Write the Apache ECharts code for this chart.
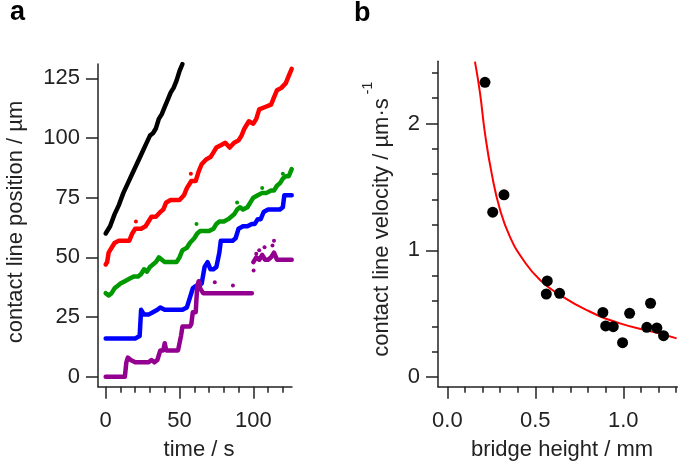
<!DOCTYPE html>
<html>
<head>
<meta charset="utf-8">
<script src="https://cdn.jsdelivr.net/npm/echarts@6/dist/echarts.min.js"></script>
<style>
html,body{margin:0;padding:0;background:#fff;}
#c{width:679px;height:468px;}
</style>
</head>
<body>
<div id="c"></div>
<script>
// ---- Panel a: contact line position traces [time s, position µm] ----
var blackTrace = [[0,60],[3,63],[6,68],[9,72],[12,77],[15,81],[18,85],[21,89],[24,93],[27,97],[30,101],[32,102],[34,104],[36,108],[38,110],[40,113],[42,116],[44,119],[46,121],[48,124],[50,128],[52,131]];
var redTrace = [[0,47],[1,48],[2,52],[4,54],[6,56],[9,57],[13,57],[16,57],[18,60],[20,62],[24,62],[27,63],[29,65],[31,67],[34,67],[37,69],[39,70],[41,73],[44,74],[47,74],[50,74],[53,76],[55,79],[58,82],[61,82],[63,86],[65,89],[68,91],[71,92],[73,94],[75,96],[78,97],[81,98],[84,96],[87,98],[90,99],[92,101],[94,104],[97,107],[100,106],[102,108],[104,112],[108,113],[112,114],[114,117],[116,120],[119,121],[122,123],[124,126],[126,129]];
var redDots = [[20.5,65],[57.7,85]];
var greenTrace = [[0,35],[2,34],[4,35],[6,37],[8,38],[10,39],[13,40],[16,41],[19,42],[22,42],[24,43],[26,45],[28,44],[30,46],[32,47],[34,48],[36,50],[38,49],[40,48],[43,48],[46,48],[48,48],[50,50],[52,53],[55,54],[57,56],[60,58],[62,60],[64,61],[67,61],[70,61],[73,62],[75,64],[77,65],[80,65],[83,66],[85,67],[87,68],[89,70],[91,71],[93,70],[96,71],[98,73],[100,75],[103,76],[106,77],[109,77],[112,78],[114,78],[116,80],[118,81],[120,83],[122,84],[124,84],[126,87]];
var greenDots = [[61.5,64],[89,73],[106,79],[120,85]];
var blueTrace = [[0,16],[5,16],[10,16],[15,16],[20,16],[23,17],[24,28],[26,26],[29,26],[32,27],[35,28],[37,29],[40,28],[43,28],[46,28],[49,28],[52,28],[55,29],[57,33],[59,37],[61,38],[63,38],[65,39],[67,46],[69,48],[71,45],[73,45],[75,46],[77,52],[78,57],[81,57],[84,57],[86,57],[88,58],[90,62],[93,63],[96,63],[99,64],[101,64],[103,66],[105,66],[107,69],[110,70],[114,70],[118,70],[120,71],[121,76],[124,76],[126,76]];
var purpleTraceA = [[0,0],[5,0],[10,0],[13,0],[14,6],[15,8],[17,7],[20,6],[23,6],[26,6],[29,6],[31,7],[33,6],[35,7],[37,11],[39,11],[40,14],[41,11],[44,11],[47,11],[49,11],[50,11],[51,17],[52,21],[55,21],[57,21],[58,22],[59,27],[61,27],[62,38],[63,40],[64,37],[66,35],[70,35],[75,35],[80,35],[85,35],[90,35],[95,35],[99,35]];
var purpleTraceB = [[100,48],[102,50],[104,49],[106,51],[108,49],[110,49],[112,50],[114,52],[116,49],[118,49],[120,49],[122,49],[124,49],[126,49]];
var purpleDots = [[100.2,44.5],[102,51.5],[104,53],[107.6,54.2],[114,57],[113,55],[73.9,39.6],[86.2,38.2],[64,39]];
var timeTicksMajor = [0,50,100];
var timeTicksMinor = [0,10,20,30,40,50,60,70,80,90,100,110,120];
var posTicks = [0,25,50,75,100,125];

// ---- Panel b: velocity vs bridge height ----
var bridgeHeight = [0.214,0.258,0.322,0.568,0.5625,0.638,0.884,0.900,0.943,0.996,1.036,1.155,1.134,1.191,1.229];
var velocity     = [2.324,1.300,1.437,0.758,0.655,0.660,0.510,0.403,0.397,0.271,0.503,0.582,0.392,0.387,0.326];
var fitHeight   = [0.157,0.186,0.214,0.252,0.300,0.356,0.432,0.527,0.640,0.792,0.981,1.170,1.303];
var fitVelocity = [2.487,2.237,1.922,1.606,1.317,1.106,0.923,0.765,0.647,0.528,0.423,0.357,0.305];
var heightTicksMajor = [0,0.5,1.0];
var heightTicksMinor = [0,0.1,0.2,0.3,0.4,0.5,0.6,0.7,0.8,0.9,1.0,1.1,1.2,1.3];
var velTicksMajor = [0,1,2];
var velTicksMinor = [0,0.2,0.4,0.6,0.8,1.0,1.2,1.4,1.6,1.8,2.0,2.2,2.4];

var FONT = '"Liberation Sans", Arial, Helvetica, sans-serif';
var AX = '#222';
var TXT = '#222';
var lbl = {fontFamily: FONT, fontSize: 22, color: TXT};

function majorAxis(gridIndex, min, max, ticks, labelMargin, fmt, showLine){
  return {
    type: 'value', gridIndex: gridIndex, min: min, max: max,
    axisLine: {show: showLine, onZero: false, lineStyle: {color: AX, width: 1.5}},
    axisTick: {show: true, length: 12, customValues: ticks, lineStyle: {color: AX, width: 1.5}},
    axisLabel: Object.assign({show: true, margin: labelMargin, customValues: ticks, formatter: fmt}, lbl),
    splitLine: {show: false}
  };
}
function minorAxis(gridIndex, min, max, ticks){
  return {
    type: 'value', gridIndex: gridIndex, min: min, max: max,
    axisLine: {show: false, onZero: false},
    axisTick: {show: true, length: 6, customValues: ticks, lineStyle: {color: AX, width: 1.5}},
    axisLabel: {show: false},
    splitLine: {show: false}
  };
}

function traceSeries(data, color){
  return {type: 'line', xAxisIndex: 0, yAxisIndex: 0, data: data, showSymbol: false, symbol: 'none',
    lineStyle: {color: color, width: 4.5, cap: 'round', join: 'round'}, silent: true, z: 3};
}
function dotSeries(data, color){
  return {type: 'scatter', xAxisIndex: 0, yAxisIndex: 0, data: data, symbolSize: 4,
    itemStyle: {color: color, opacity: 1}, silent: true, z: 3};
}

var chart = echarts.init(document.getElementById('c'), null, {renderer: 'canvas'});
chart.setOption({
  animation: false,
  backgroundColor: '#fff',
  grid: [
    {left: 98, top: 64, width: 194, height: 322.7, containLabel: false},
    {left: 438, top: 61.3, width: 239.3, height: 325.4, containLabel: false}
  ],
  xAxis: [
    Object.assign(majorAxis(0, -5.2, 126.2, timeTicksMajor, 23, function(v){return String(v);}, true), {position: 'bottom'}),
    Object.assign(minorAxis(0, -5.2, 126.2, timeTicksMinor), {position: 'bottom'}),
    Object.assign(majorAxis(1, -0.053, 1.307, heightTicksMajor, 23, function(v){return v.toFixed(1);}, true), {position: 'bottom'}),
    Object.assign(minorAxis(1, -0.053, 1.307, heightTicksMinor), {position: 'bottom'})
  ],
  yAxis: [
    Object.assign(majorAxis(0, -4.2, 131, posTicks, 18, function(v){return String(v);}, true), {position: 'left'}),
    Object.assign(majorAxis(1, -0.076, 2.49, velTicksMajor, 18, function(v){return String(v);}, true), {position: 'left'}),
    Object.assign(minorAxis(1, -0.076, 2.49, velTicksMinor), {position: 'left'})
  ],
  series: [
    traceSeries(blackTrace, '#000000'),
    traceSeries(redTrace, '#ff0000'),
    dotSeries(redDots, '#ff0000'),
    traceSeries(greenTrace, '#009900'),
    dotSeries(greenDots, '#009900'),
    traceSeries(blueTrace, '#0000ff'),
    traceSeries(purpleTraceA, '#930090'),
    traceSeries(purpleTraceB, '#930090'),
    dotSeries(purpleDots, '#930090'),
    {type: 'line', xAxisIndex: 2, yAxisIndex: 1, smooth: true, symbol: 'none', showSymbol: false,
     data: fitHeight.map(function(h, i){return [h, fitVelocity[i]];}),
     lineStyle: {color: '#ff0000', width: 2}, silent: true, z: 2},
    {type: 'scatter', xAxisIndex: 2, yAxisIndex: 1, symbolSize: 11,
     data: bridgeHeight.map(function(h, i){return [h, velocity[i]];}),
     itemStyle: {color: '#000000', opacity: 1}, silent: true, z: 3}
  ],
  graphic: [
    {type: 'text', x: 10, y: 13, style: {text: 'a', font: 'bold 27px ' + FONT, fill: '#000', align: 'left', verticalAlign: 'middle'}},
    {type: 'text', x: 354, y: 14, style: {text: 'b', font: 'bold 27px ' + FONT, fill: '#000', align: 'left', verticalAlign: 'middle'}},
    {type: 'text', x: 199, y: 450, style: {text: 'time / s', font: '22px ' + FONT, fill: TXT, align: 'center', verticalAlign: 'middle'}},
    {type: 'text', x: 562, y: 450, style: {text: 'bridge height / mm', font: '22px ' + FONT, fill: TXT, align: 'center', verticalAlign: 'middle'}},
    {type: 'text', x: 16, y: 222, rotation: Math.PI / 2, style: {text: 'contact line position / µm', font: '22px ' + FONT, fill: TXT, align: 'center', verticalAlign: 'middle'}},
    {type: 'text', x: 382, y: 227.5, rotation: Math.PI / 2, style: {text: 'contact line velocity / µm·s', font: '22px ' + FONT, fill: TXT, align: 'center', verticalAlign: 'middle'}},
    {type: 'text', x: 368, y: 88, rotation: Math.PI / 2, style: {text: '-1', font: '14px ' + FONT, fill: TXT, align: 'center', verticalAlign: 'middle'}}
  ]
});
</script>
</body>
</html>
